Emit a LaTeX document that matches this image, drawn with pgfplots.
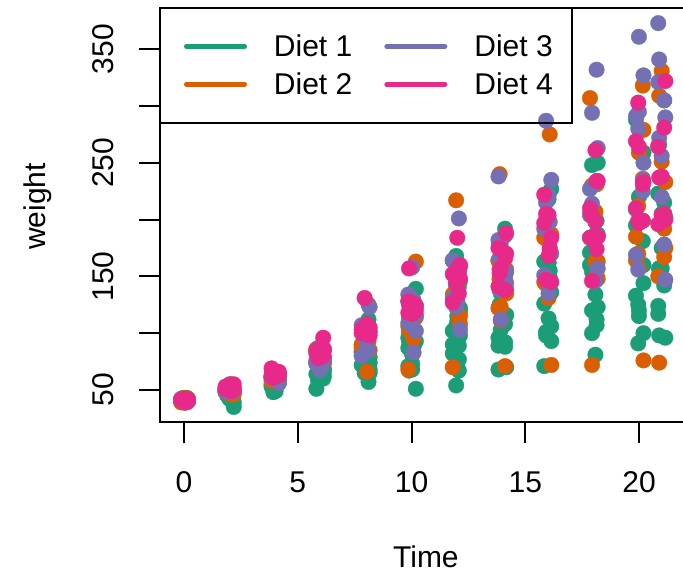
\documentclass[border=0pt]{standalone}
\usepackage{fontspec}
\setmainfont{Liberation Sans}
\usepackage{pgfplots}
\pgfplotsset{compat=1.18}
\definecolor{dA}{HTML}{1B9E77}
\definecolor{dB}{HTML}{D95F02}
\definecolor{dC}{HTML}{7570B3}
\definecolor{dD}{HTML}{E7298A}
\newcommand{\bigfont}{\fontsize{30bp}{36bp}\selectfont}
\begin{document}
\begin{tikzpicture}
\begin{axis}[
  at={(0,0)}, anchor=south west,
  scale only axis, width=525.8bp, height=414.5bp,
  xmin=-1.05, xmax=22.05, ymin=21.5, ymax=386.5,
  axis line style={line width=2bp},
  xtick={0,5,10,15,20},
  ytick={50,100,150,200,250,300,350},
  yticklabels={50,,150,,250,,350},
  xtick pos=lower, ytick pos=left,
  tick align=outside, major tick length=21bp,
  tick style={line width=2bp, black},
  /pgf/number format/assume math mode=true,
  tick label style={font=\bigfont},
  xticklabel style={anchor=center, yshift=-38.7bp, inner sep=0pt},
  yticklabel style={xshift=-36bp, rotate=90, anchor=center, inner sep=0pt},
  every axis x label/.style={at={(axis description cs:0.5,0)}, xshift=3bp, yshift=-134.4bp, anchor=center, font=\bigfont, inner sep=0pt},
  every axis y label/.style={at={(axis description cs:0,0.5)}, xshift=-122.5bp, yshift=8.5bp, rotate=90, anchor=center, font=\bigfont, inner sep=0pt},
  xlabel={Time}, ylabel={weight},
  legend columns=2,
  legend style={at={(axis description cs:0,1)}, anchor=north west, draw=black, line width=2bp, fill=none, outer sep=0pt,
    inner xsep=19bp, inner ysep=19.5bp, column sep=27bp, row sep=0pt,
    nodes={inner sep=0pt, font=\bigfont}, cells={anchor=west}},
  legend image code/.code={\path[draw=none, fill=none] (0bp,-19bp) rectangle (68bp,19bp); \draw[line width=4.7bp, line cap=round] (7.35bp,0bp) -- (65.65bp,0bp);},
]
% Diet 1
\addplot[only marks, mark=*, mark size=7.8bp, color=dA, mark options={draw=dA, fill=dA, line width=0.3bp}, forget plot] coordinates {
(0.14,42) (1.91,51) (4.03,59) (5.82,64) (8.11,76) (10.19,93) (11.96,106) (13.87,125) (16.07,149) (17.84,171) (20.16,199) (20.99,205)
(-0.12,40) (2.06,49) (4.17,58) (5.97,72) (7.81,84) (10.09,103) (12.13,122) (13.92,138) (16.02,162) (18.18,187) (19.86,209) (21.10,215)
(0.05,43) (2.19,39) (3.85,55) (6.12,67) (7.94,84) (9.89,99) (12.01,115) (14.16,138) (15.83,163) (18.08,187) (19.96,198) (21.15,202)
(-0.02,42) (1.83,49) (4.10,56) (6.15,67) (8.04,74) (9.86,87) (11.81,102) (14.11,108) (16.14,136) (17.93,154) (20.19,160) (20.88,157)
(0.18,41) (2.01,42) (3.93,48) (5.90,60) (8.16,79) (10.03,106) (12.08,141) (13.82,164) (15.91,197) (18.13,199) (19.99,220) (20.84,223)
(0.14,41) (1.91,49) (4.03,59) (5.82,74) (8.11,97) (10.19,124) (11.96,141) (13.87,148) (16.07,155) (17.84,160) (20.16,160) (20.99,157)
(-0.12,41) (2.06,49) (4.17,57) (5.97,71) (7.81,89) (10.09,112) (12.13,146) (13.92,174) (16.02,218) (18.18,250) (19.86,288) (21.10,305)
(0.05,42) (2.19,50) (3.85,61) (6.12,71) (7.94,84) (9.89,93) (12.01,110) (14.16,116) (15.83,126) (18.08,134) (19.96,125)
(-0.02,42) (1.83,51) (4.10,59) (6.15,68) (8.04,85) (9.86,96) (11.81,90) (14.11,92) (16.14,93) (17.93,100) (20.19,100) (20.88,98)
(0.18,41) (2.01,44) (3.93,52) (5.90,63) (8.16,74) (10.03,81) (12.08,89) (13.82,96) (15.91,101) (18.13,112) (19.99,120) (20.84,124)
(0.14,43) (1.91,51) (4.03,63) (5.82,84) (8.11,112) (10.19,139) (11.96,168) (13.87,177) (16.07,182) (17.84,184) (20.16,181) (20.99,175)
(-0.12,41) (2.06,49) (4.17,56) (5.97,62) (7.81,72) (10.09,88) (12.13,119) (13.92,135) (16.02,162) (18.18,185) (19.86,195) (21.10,205)
(0.05,41) (2.19,48) (3.85,53) (6.12,60) (7.94,65) (9.89,67) (12.01,71) (14.16,70) (15.83,71) (18.08,81) (19.96,91) (21.15,96)
(-0.02,41) (1.83,49) (4.10,62) (6.15,79) (8.04,101) (9.86,128) (11.81,164) (14.11,192) (16.14,227) (17.93,248) (20.19,259) (20.88,266)
(0.18,41) (2.01,49) (3.93,56) (5.90,64) (8.16,68) (10.03,68) (12.08,67) (13.82,68)
(0.14,41) (1.91,45) (4.03,49) (5.82,51) (8.11,57) (10.19,51) (11.96,54)
(-0.12,42) (2.06,51) (4.17,61) (5.97,72) (7.81,83) (10.09,89) (12.13,98) (13.92,103) (16.02,113) (18.18,123) (19.86,133) (21.10,142)
(0.05,39) (2.19,35)
(-0.02,43) (1.83,48) (4.10,55) (6.15,62) (8.04,65) (9.86,71) (11.81,82) (14.11,88) (16.14,106) (17.93,120) (20.19,144) (20.88,157)
(0.18,41) (2.01,47) (3.93,54) (5.90,58) (8.16,65) (10.03,73) (12.08,77) (13.82,89) (15.91,98) (18.13,107) (19.99,115) (20.84,117)
};
% Diet 2
\addplot[only marks, mark=*, mark size=7.8bp, color=dB, mark options={draw=dB, fill=dB, line width=0.3bp}, forget plot] coordinates {
(0.14,40) (1.91,50) (4.03,62) (5.82,86) (8.11,125) (10.19,163) (11.96,217) (13.87,240) (16.07,275) (17.84,307) (20.16,318) (20.99,331)
(-0.12,41) (2.06,55) (4.17,64) (5.97,77) (7.81,90) (10.09,95) (12.13,108) (13.92,111) (16.02,131) (18.18,148) (19.86,164) (21.10,167)
(0.05,43) (2.19,52) (3.85,61) (6.12,73) (7.94,90) (9.89,103) (12.01,127) (14.16,135) (15.83,145) (18.08,163) (19.96,170) (21.15,175)
(-0.02,42) (1.83,52) (4.10,58) (6.15,74) (8.04,66) (9.86,68) (11.81,70) (14.11,71) (16.14,72) (17.93,72) (20.19,76) (20.88,74)
(0.18,40) (2.01,49) (3.93,62) (5.90,78) (8.16,102) (10.03,124) (12.08,146) (13.82,164) (15.91,197) (18.13,231) (19.99,259) (20.84,265)
(0.14,42) (1.91,48) (4.03,57) (5.82,74) (8.11,93) (10.19,114) (11.96,136) (13.87,147) (16.07,169) (17.84,205) (20.16,236) (20.99,251)
(-0.12,39) (2.06,46) (4.17,58) (5.97,73) (7.81,87) (10.09,100) (12.13,115) (13.92,123) (16.02,144) (18.18,163) (19.86,185) (21.10,192)
(0.05,39) (2.19,46) (3.85,58) (6.12,73) (7.94,92) (9.89,114) (12.01,145) (14.16,156) (15.83,184) (18.08,207) (19.96,212) (21.15,233)
(-0.02,39) (1.83,48) (4.10,59) (6.15,74) (8.04,87) (9.86,106) (11.81,134) (14.11,150) (16.14,187) (17.93,230) (20.19,279) (20.88,309)
(0.18,42) (2.01,48) (3.93,59) (5.90,72) (8.16,85) (10.03,98) (12.08,115) (13.82,122) (15.91,143) (18.13,151) (19.99,157) (20.84,150)
};
% Diet 3
\addplot[only marks, mark=*, mark size=7.8bp, color=dC, mark options={draw=dC, fill=dC, line width=0.3bp}, forget plot] coordinates {
(0.14,42) (1.91,53) (4.03,62) (5.82,73) (8.11,85) (10.19,102) (11.96,123) (13.87,138) (16.07,170) (17.84,204) (20.16,235) (20.99,256)
(-0.12,41) (2.06,49) (4.17,65) (5.97,82) (7.81,107) (10.09,129) (12.13,159) (13.92,179) (16.02,221) (18.18,263) (19.86,291) (21.10,305)
(0.05,39) (2.19,50) (3.85,63) (6.12,77) (7.94,96) (9.89,111) (12.01,137) (14.16,144) (15.83,151) (18.08,146) (19.96,156) (21.15,147)
(-0.02,41) (1.83,49) (4.10,63) (6.15,85) (8.04,107) (9.86,134) (11.81,164) (14.11,186) (16.14,235) (17.93,294) (20.19,327) (20.88,341)
(0.18,41) (2.01,53) (3.93,64) (5.90,87) (8.16,123) (10.03,158) (12.08,201) (13.82,238) (15.91,287) (18.13,332) (19.99,361) (20.84,373)
(0.14,39) (1.91,48) (4.03,61) (5.82,76) (8.11,98) (10.19,116) (11.96,145) (13.87,166) (16.07,198) (17.84,227) (20.16,225) (20.99,220)
(-0.12,41) (2.06,48) (4.17,56) (5.97,68) (7.81,80) (10.09,83) (12.13,103) (13.92,112) (16.02,135) (18.18,157) (19.86,169) (21.10,178)
(0.05,41) (2.19,49) (3.85,61) (6.12,74) (7.94,98) (9.89,109) (12.01,128) (14.16,154) (15.83,192) (18.08,232) (19.96,280) (21.15,290)
(-0.02,42) (1.83,50) (4.10,61) (6.15,78) (8.04,89) (9.86,109) (11.81,130) (14.11,146) (16.14,170) (17.93,214) (20.19,250) (20.88,272)
(0.18,41) (2.01,55) (3.93,66) (5.90,79) (8.16,101) (10.03,120) (12.08,154) (13.82,182) (15.91,215) (18.13,262) (19.99,295) (20.84,321)
};
% Diet 4
\addplot[only marks, mark=*, mark size=7.8bp, color=dD, mark options={draw=dD, fill=dD, line width=0.3bp}, forget plot] coordinates {
(0.14,42) (1.91,51) (4.03,66) (5.82,85) (8.11,103) (10.19,124) (11.96,155) (13.87,153) (16.07,175) (17.84,184) (20.16,199) (20.99,204)
(-0.12,42) (2.06,49) (4.17,63) (5.97,84) (7.81,103) (10.09,126) (12.13,160) (13.92,174) (16.02,204) (18.18,234) (19.86,269) (21.10,281)
(0.05,42) (2.19,55) (3.85,69) (6.12,96) (7.94,131) (9.89,157) (12.01,184) (14.16,188) (15.83,197) (18.08,198) (19.96,199) (21.15,200)
(-0.02,42) (1.83,51) (4.10,65) (6.15,86) (8.04,103) (9.86,118) (11.81,127) (14.11,138) (16.14,145) (17.93,146)
(0.18,41) (2.01,50) (3.93,61) (5.90,78) (8.16,98) (10.03,117) (12.08,135) (13.82,141) (15.91,147) (18.13,174) (19.99,197) (20.84,196)
(0.14,40) (1.91,52) (4.03,62) (5.82,82) (8.11,101) (10.19,120) (11.96,144) (13.87,156) (16.07,173) (17.84,210) (20.16,231) (20.99,238)
(-0.12,41) (2.06,53) (4.17,66) (5.97,79) (7.81,100) (10.09,123) (12.13,148) (13.92,157) (16.02,168) (18.18,185) (19.86,210) (21.10,205)
(0.05,39) (2.19,50) (3.85,62) (6.12,80) (7.94,104) (9.89,125) (12.01,154) (14.16,170) (15.83,222) (18.08,261) (19.96,303) (21.15,322)
(-0.02,40) (1.83,53) (4.10,64) (6.15,85) (8.04,108) (9.86,128) (11.81,152) (14.11,166) (16.14,184) (17.93,203) (20.19,233) (20.88,237)
(0.18,41) (2.01,54) (3.93,67) (5.90,84) (8.16,105) (10.03,122) (12.08,155) (13.82,175) (15.91,205) (18.13,234) (19.99,264) (20.84,264)
};
\addlegendimage{color=dA}\addlegendentry{Diet 1}
\addlegendimage{color=dC}\addlegendentry{Diet 3}
\addlegendimage{color=dB}\addlegendentry{Diet 2}
\addlegendimage{color=dD}\addlegendentry{Diet 4}
\end{axis}
\pgfresetboundingbox
\path[use as bounding box] (-160bp,-153.7bp) rectangle (523bp,422.3bp);
\end{tikzpicture}
\end{document}
